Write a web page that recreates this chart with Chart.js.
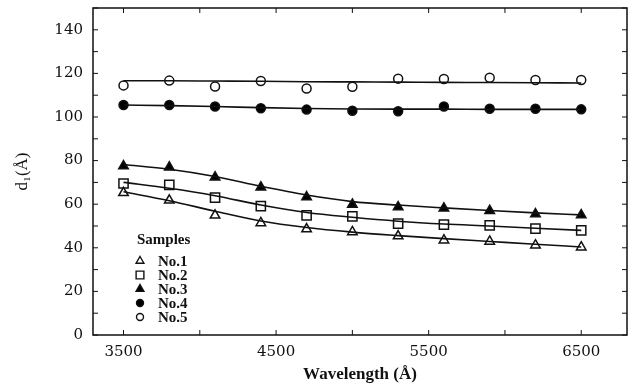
<!DOCTYPE html>
<html>
<head>
<meta charset="utf-8">
<script src="https://cdn.jsdelivr.net/npm/chart.js@4/dist/chart.umd.min.js"></script>
<style>
  html, body { margin: 0; padding: 0; background: #fff; }
  #wrap { width: 639px; height: 388px; }
</style>
</head>
<body>
<div id="wrap"><canvas id="chart" width="639" height="388"></canvas></div>
<script>
// wavelengths where d1 was measured
var wavelengths = [3500, 3800, 4100, 4400, 4700, 5000, 5300, 5600, 5900, 6200, 6500];

// measured points
var no1 = [65.2, 61.8, 54.9, 51.4, 48.6, 47.3, 45.4, 43.5, 42.9, 41.2, 40.3];
var no2 = [69.5, 68.9, 63.0, 59.1, 54.9, 54.4, 51.1, 50.6, 50.3, 48.8, 48.0];
var no3 = [77.5, 77.0, 72.4, 67.8, 63.3, 59.9, 58.7, 58.1, 57.0, 55.5, 55.0];
var no4 = [105.5, 105.5, 104.8, 104.0, 103.4, 102.9, 102.6, 104.8, 103.8, 103.8, 103.5];
var no5 = [114.5, 116.7, 114.0, 116.5, 113.1, 113.9, 117.6, 117.4, 118.0, 117.0, 117.0];

// fitted curves
var no1Fit = [65.7, 61.6, 56.8, 52.3, 49.3, 47.2, 45.6, 44.2, 42.9, 41.6, 40.4];
var no2Fit = [70.0, 67.3, 63.9, 59.6, 56.2, 54.0, 52.2, 50.9, 50.0, 49.0, 48.0];
var no3Fit = [78.2, 76.0, 72.7, 68.2, 64.2, 61.2, 59.6, 58.3, 57.1, 56.0, 55.1];
var no4Fit = [105.5, 105.2, 104.8, 104.3, 103.9, 103.7, 103.6, 103.6, 103.5, 103.5, 103.5];
var no5Fit = [116.6, 116.6, 116.5, 116.4, 116.2, 116.1, 116.0, 115.9, 115.8, 115.7, 115.6];

var sampleNames = ["No.1", "No.2", "No.3", "No.4", "No.5"];
var xLabelTicks = [3500, 4500, 5500, 6500];
var xTickMarks = [3500, 4000, 4500, 5000, 5500, 6000, 6500];
var yLabelTicks = [0, 20, 40, 60, 80, 100, 120, 140];
var yTickMarks = [0, 10, 20, 30, 40, 50, 60, 70, 80, 90, 100, 110, 120, 130, 140, 150];

var serif = '"Liberation Serif", "Times New Roman", "DejaVu Serif", serif';
var wideSerif = '"DejaVu Serif", "Liberation Serif", serif';

var markers = [
  { style: "triangle", fill: "#fff", radius: 5.5 },
  { style: "rect", fill: "#fff", radius: 6.5 },
  { style: "triangle", fill: "#000", radius: 5.5 },
  { style: "circle", fill: "#000", radius: 4.5 },
  { style: "circle", fill: "#fff", radius: 4.5 },
];

function toPoints(values) {
  return values.map(function (v, i) {
    return { x: wavelengths[i], y: v };
  });
}

var measured = [no1, no2, no3, no4, no5];
var fits = [no1Fit, no2Fit, no3Fit, no4Fit, no5Fit];
var datasets = [];

fits.forEach(function (fit, i) {
  datasets.push({
    label: sampleNames[i] + " fit",
    data: toPoints(fit),
    borderColor: "#111",
    borderWidth: 1.6,
    pointRadius: 0,
    cubicInterpolationMode: "monotone",
  });
});

measured.forEach(function (vals, i) {
  datasets.push({
    label: sampleNames[i],
    data: toPoints(vals),
    showLine: false,
    pointStyle: markers[i].style,
    pointRadius: markers[i].radius,
    pointBackgroundColor: markers[i].fill,
    pointBorderColor: "#111",
    pointBorderWidth: 1.5,
  });
});

// frame, inward ticks and the "Samples" legend
var framePlugin = {
  id: "frame",
  afterDraw: function (chart) {
    var ctx = chart.ctx;
    var a = chart.chartArea;
    var xs = chart.scales.x;
    var ys = chart.scales.y;
    ctx.save();
    ctx.strokeStyle = "#111";
    ctx.lineWidth = 1.5;
    ctx.strokeRect(a.left, a.top, a.right - a.left, a.bottom - a.top);

    ctx.lineWidth = 1;
    ctx.beginPath();
    xTickMarks.forEach(function (v) {
      var px = xs.getPixelForValue(v);
      ctx.moveTo(px, a.bottom);
      ctx.lineTo(px, a.bottom - 5);
      ctx.moveTo(px, a.top);
      ctx.lineTo(px, a.top + 5);
    });
    yTickMarks.forEach(function (v) {
      var py = ys.getPixelForValue(v);
      ctx.moveTo(a.left, py);
      ctx.lineTo(a.left + 5, py);
      ctx.moveTo(a.right, py);
      ctx.lineTo(a.right - 5, py);
    });
    ctx.stroke();

    // legend
    var lx = a.left + 44;
    var ly = a.top + 232;
    ctx.fillStyle = "#111";
    ctx.font = "bold 15px " + serif;
    ctx.textBaseline = "middle";
    ctx.textAlign = "left";
    ctx.fillText("Samples", lx, ly);
    sampleNames.forEach(function (name, i) {
      var y = ly + 21 + i * 14;
      var m = markers[i];
      ctx.fillStyle = m.fill;
      ctx.strokeStyle = "#111";
      ctx.lineWidth = 1.4;
      Chart.helpers.drawPoint(ctx, { pointStyle: m.style, radius: m.radius - 1, borderWidth: 1.4 }, lx + 3, y);
      ctx.fillStyle = "#111";
      ctx.fillText(name, lx + 21, y + 1);
    });
    ctx.restore();
  },
};

var ctx = document.getElementById("chart").getContext("2d");
var myChart = new Chart(ctx, {
  type: "line",
  data: { datasets: datasets },
  options: {
    responsive: false,
    animation: false,
    layout: { padding: { left: 0, right: 12, top: 8, bottom: 0 } },
    plugins: {
      legend: { display: false },
      tooltip: { enabled: false },
    },
    scales: {
      x: {
        type: "linear",
        min: 3300,
        max: 6800,
        grid: { display: false, drawTicks: false },
        border: { display: false },
        afterBuildTicks: function (scale) {
          scale.ticks = xLabelTicks.map(function (v) { return { value: v }; });
        },
        afterFit: function (scale) {
          scale.height = 53;
          scale.paddingLeft = 0;
          scale.paddingRight = 0;
        },
        ticks: {
          color: "#111",
          padding: 8,
          maxRotation: 0,
          font: { family: wideSerif, size: 15 },
          callback: function (v) { return String(v); },
        },
        title: {
          display: true,
          text: "Wavelength (Å)",
          color: "#111",
          padding: { top: 0, bottom: 3 },
          font: { family: serif, size: 17, weight: "bold" },
        },
      },
      y: {
        min: 0,
        max: 150,
        grid: { display: false, drawTicks: false },
        border: { display: false },
        afterBuildTicks: function (scale) {
          scale.ticks = yLabelTicks.map(function (v) { return { value: v }; });
        },
        afterFit: function (scale) {
          scale.width = 93;
          scale.paddingTop = 0;
          scale.paddingBottom = 0;
        },
        ticks: {
          color: "#111",
          padding: 10,
          font: { family: wideSerif, size: 15 },
          callback: function (v) { return String(v); },
        },
        title: {
          display: true,
          text: "d\u2081(Å)",
          color: "#111",
          padding: { top: 12, bottom: 0 },
          font: { family: serif, size: 17 },
        },
      },
    },
  },
  plugins: [framePlugin],
});
</script>
</body>
</html>
